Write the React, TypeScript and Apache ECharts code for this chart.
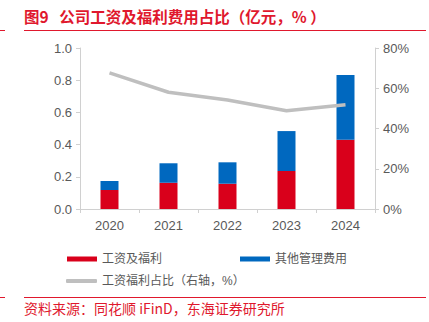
import React, { useEffect, useRef } from "react";
import * as echarts from "echarts";

const categories = ["2020", "2021", "2022", "2023", "2024"];
const wages = [0.118, 0.163, 0.157, 0.236, 0.43];
const otherAdmin = [0.056, 0.121, 0.133, 0.248, 0.402];
const wageShare = [67.6, 58.0, 54.2, 48.8, 51.8];

const RED = "#d9001b";
const BLUE = "#0068bf";
const GRAY = "#bfbfbf";
const TITLE_RED = "#e0182d";
const FONT = "'Liberation Sans', Arial, 'Noto Sans CJK SC', sans-serif";

export default function App() {
  const ref = useRef<HTMLDivElement>(null);
  useEffect(() => {
    const chart = echarts.init(ref.current!, undefined, { renderer: "svg" });
    const axisLine = { show: true, lineStyle: { color: "#d0d0d0", width: 1 } };
    const axisLabel = { color: "#595959", fontSize: 13, fontFamily: FONT };
    chart.setOption({
      animation: false,
      textStyle: { fontFamily: FONT },
      grid: { left: 80, right: 54, top: 48, bottom: 113, containLabel: false },
      xAxis: {
        type: "category",
        data: categories,
        axisLine,
        axisTick: { show: true, length: 4, lineStyle: { color: "#d0d0d0" } },
        axisLabel: { ...axisLabel, margin: 10 },
      },
      yAxis: [
        {
          type: "value",
          min: 0,
          max: 1,
          interval: 0.2,
          axisLine,
          axisTick: { show: true, length: 4, lineStyle: { color: "#d0d0d0" } },
          splitLine: { show: false },
          axisLabel: { ...axisLabel, margin: 8, formatter: (v: number) => v.toFixed(1) },
        },
        {
          type: "value",
          min: 0,
          max: 80,
          interval: 20,
          position: "right",
          axisLine,
          axisTick: { show: true, length: 4, lineStyle: { color: "#d0d0d0" } },
          splitLine: { show: false },
          axisLabel: { ...axisLabel, margin: 8, formatter: "{value}%" },
        },
      ],
      legend: [
        {
          left: 62,
          top: 248,
          itemWidth: 30,
          itemHeight: 5,
          itemGap: 0,
          icon: "rect",
          textStyle: { color: "#595959", fontSize: 12, fontFamily: FONT },
          data: ["工资及福利"],
        },
        {
          left: 235,
          top: 248,
          itemWidth: 30,
          itemHeight: 5,
          icon: "rect",
          textStyle: { color: "#595959", fontSize: 12, fontFamily: FONT },
          data: ["其他管理费用"],
        },
        {
          left: 61,
          top: 270,
          itemWidth: 31,
          itemHeight: 4,
          icon: "roundRect",
          textStyle: { color: "#595959", fontSize: 12, fontFamily: FONT },
          data: ["工资福利占比（右轴，%）"],
        },
      ],
      series: [
        {
          name: "工资及福利",
          type: "bar",
          stack: "a",
          barWidth: 18,
          itemStyle: { color: RED },
          data: wages,
        },
        {
          name: "其他管理费用",
          type: "bar",
          stack: "a",
          barWidth: 18,
          itemStyle: { color: BLUE },
          data: otherAdmin,
        },
        {
          name: "工资福利占比（右轴，%）",
          type: "line",
          yAxisIndex: 1,
          symbol: "none",
          lineStyle: { color: GRAY, width: 3.5 },
          itemStyle: { color: GRAY },
          data: wageShare,
        },
      ],
      graphic: [
        {
          type: "text",
          left: 24,
          top: 8,
          style: {
            text: "图9   公司工资及福利费用占比（亿元，% ）",
            fill: TITLE_RED,
            font: `bold 15.5px 'Noto Sans CJK SC', sans-serif`,
          },
        },
        { type: "rect", shape: { x: 24, y: 30, width: 402, height: 1 }, style: { fill: TITLE_RED } },
        { type: "rect", shape: { x: 0, y: 30, width: 5, height: 1 }, style: { fill: TITLE_RED } },
        { type: "rect", shape: { x: 24, y: 297, width: 402, height: 1 }, style: { fill: TITLE_RED } },
        { type: "rect", shape: { x: 0, y: 297, width: 5, height: 1 }, style: { fill: TITLE_RED } },
        {
          type: "text",
          left: 24,
          top: 301,
          style: {
            text: "资料来源：同花顺 iFinD，东海证券研究所",
            fill: TITLE_RED,
            font: `14px 'Noto Sans CJK SC', sans-serif`,
          },
        },
      ],
    });
    return () => chart.dispose();
  }, []);
  return <div ref={ref} style={{ width: 429, height: 322, position: "absolute", left: 0, top: 0 }} />;
}
